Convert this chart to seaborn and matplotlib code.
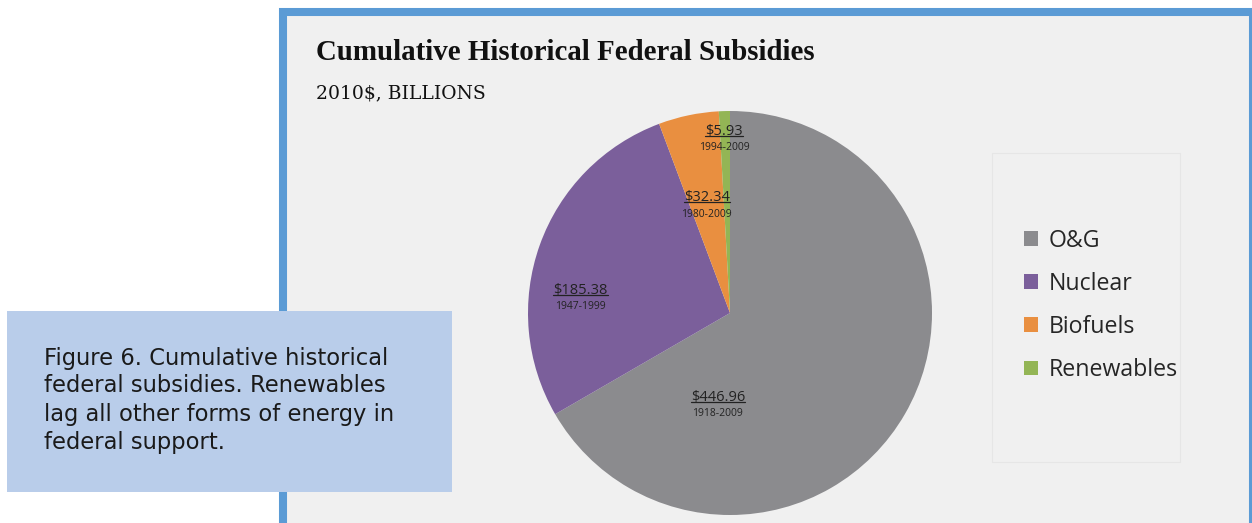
import matplotlib
matplotlib.use("Agg")
import matplotlib.pyplot as plt
import seaborn as sns
from matplotlib.patches import Rectangle
from matplotlib.lines import Line2D

# data
categories = ["O&G", "Nuclear", "Biofuels", "Renewables"]
subsidies = [446.96, 185.38, 32.34, 5.93]
periods = ["1918-2009", "1947-1999", "1980-2009", "1994-2009"]
colors = ["#8b8b8e", "#7b5f9b", "#e98f40", "#93b555"]

# label anchor points inside the pie (pie units, radius 1)
label_xy = [(-0.06, -0.42), (-0.74, 0.11), (-0.115, 0.57), (-0.03, 0.90)]
year_dy = 0.08

W, H = 1252, 523
sns.set_style("white")
fig = plt.figure(figsize=(W / 100, H / 100), dpi=100, facecolor="white")


def fx(px):
    return px / W


def fy(py):
    return 1 - py / H


# panel with blue frame
panel = Rectangle((fx(283), fy(540)), fx(1253) - fx(283), fy(12) - fy(540),
                  transform=fig.transFigure, facecolor="#f0f0f0",
                  edgecolor="#5b9bd5", linewidth=5.8, zorder=-5)
fig.patches.append(panel)

# legend frame
lbox = Rectangle((fx(992), fy(462)), fx(1180) - fx(992), fy(153) - fy(462),
                 transform=fig.transFigure, facecolor="none",
                 edgecolor="#e6e6e6", linewidth=0.8, zorder=-4)
fig.patches.append(lbox)

fig.text(fx(316), fy(53), "Cumulative Historical Federal Subsidies",
         family="Liberation Serif", fontweight="bold", fontsize=20.8,
         va="center", ha="left", color="#111111")
fig.text(fx(316), fy(93), "2010$, BILLIONS", family="DejaVu Serif",
         fontsize=13.5, va="center", ha="left", color="#111111")

# pie
cx, cy, r = 730, 313, 202
ax = fig.add_axes([fx(cx - r), fy(cy + r), (2 * r) / W, (2 * r) / H])
wedges, _ = ax.pie(subsidies, colors=colors, startangle=90, counterclock=False,
                   radius=1.0, wedgeprops=dict(linewidth=0))
ax.set_xlim(-1, 1)
ax.set_ylim(-1, 1)
ax.set_aspect("equal")
ax.axis("off")

value_texts = []
for (lx, ly), val, per in zip(label_xy, subsidies, periods):
    t = ax.text(lx, ly, f"${val:.2f}", ha="center", va="center",
                family="Open Sans", fontsize=10.5, color="#222222")
    value_texts.append(t)
    ax.text(lx, ly - year_dy, per, ha="center", va="center",
            family="Open Sans", fontsize=7.5, color="#222222")

fig.legend(wedges, categories, loc="upper left",
           bbox_to_anchor=(fx(1024), fy(229)), frameon=False,
           prop={"family": "Open Sans", "size": 16.7},
           handlelength=0.6, handleheight=0.6, handletextpad=0.45,
           labelspacing=0.82, borderaxespad=0, borderpad=0)

# caption box
cap = Rectangle((fx(7), fy(492)), fx(452) - fx(7), fy(311) - fy(492),
                transform=fig.transFigure, facecolor="#b9cdea",
                edgecolor="none", zorder=5)
fig.patches.append(cap)
caption = ["Figure 6. Cumulative historical",
           "federal subsidies. Renewables",
           "lag all other forms of energy in",
           "federal support."]
for i, line in enumerate(caption):
    fig.text(fx(44), fy(358 + i * 28), line, family="DejaVu Sans",
             fontsize=16.3, va="center", ha="left", color="#1a1a1a", zorder=6)

# underline the dollar values
fig.canvas.draw()
renderer = fig.canvas.get_renderer()
for t in value_texts:
    bb = t.get_window_extent(renderer)
    yline = bb.y0 + 3
    fig.lines.append(Line2D([bb.x0 / W, bb.x1 / W], [yline / H, yline / H],
                            transform=fig.transFigure, color="#222222",
                            linewidth=0.9))

fig.savefig("out.png", dpi=100, facecolor="white")
